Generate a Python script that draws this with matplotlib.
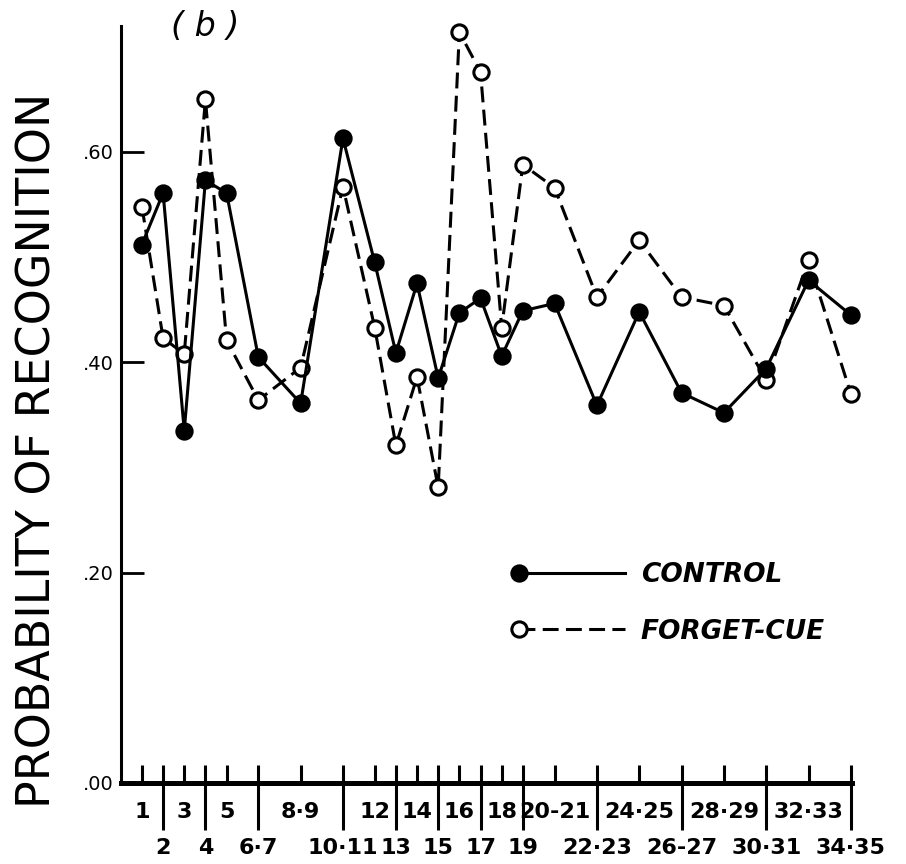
import matplotlib
matplotlib.use('Agg')
import matplotlib.pyplot as plt
from matplotlib.legend_handler import HandlerLine2D

# serial positions (pairs plotted at their midpoint)
pozycje = [1, 2, 3, 4, 5, 6.5, 8.5, 10.5, 12, 13, 14, 15, 16, 17, 18, 19,
           20.5, 22.5, 24.5, 26.5, 28.5, 30.5, 32.5, 34.5]
etykiety = ['1', '2', '3', '4', '5', '6·7', '8·9', '10·11', '12', '13', '14', '15',
            '16', '17', '18', '19', '20-21', '22·23', '24·25', '26-27', '28·29',
            '30·31', '32·33', '34·35']

control = [0.512, 0.561, 0.335, 0.573, 0.561, 0.405, 0.361, 0.613, 0.495, 0.409,
           0.475, 0.385, 0.447, 0.461, 0.406, 0.449, 0.456, 0.359, 0.448, 0.371,
           0.352, 0.394, 0.478, 0.445]
forget_cue = [0.548, 0.423, 0.408, 0.650, 0.421, 0.364, 0.395, 0.567, 0.433, 0.321,
              0.386, 0.281, 0.714, 0.676, 0.433, 0.588, 0.566, 0.462, 0.516, 0.462,
              0.454, 0.383, 0.497, 0.370]

y_ticks = [0.0, 0.2, 0.4, 0.6]
y_labels = ['.00', '.20', '.40', '.60']


class MarkerOnLeft(HandlerLine2D):
    # marker at the left end of the legend line instead of the middle
    def create_artists(self, *args, **kwargs):
        arts = super().create_artists(*args, **kwargs)
        for a in arts:
            a.set_markevery([0])
        return arts


fig = plt.figure(figsize=(9.06, 8.64), dpi=100)
ax = fig.add_axes([0.1333, 0.09375, 0.807, 0.8764])

ax.plot(pozycje, forget_cue, color='black', lw=2.2, linestyle=(0, (5.2, 2.4)),
        marker='o', ms=11, mfc='white', mec='black', mew=2.2,
        label='FORGET-CUE', clip_on=False, zorder=3)
ax.plot(pozycje, control, color='black', lw=2.2, linestyle='-',
        marker='o', ms=11, mfc='black', mec='black', mew=2.2,
        label='CONTROL', clip_on=False, zorder=4)

ax.set_xlim(0, 34.55)
ax.set_ylim(0, 0.72)

for s in ['top', 'right']:
    ax.spines[s].set_visible(False)
ax.spines['left'].set_linewidth(2.2)
ax.spines['bottom'].set_linewidth(3.6)

ax.set_yticks(y_ticks)
ax.set_yticklabels(y_labels, fontsize=14)
ax.tick_params(axis='y', direction='in', length=16.5, width=2, pad=5)

# short inward ticks at every position, long outward ticks at the lower-row ones
ax.set_xticks(pozycje)
ax.set_xticklabels([])
ax.tick_params(axis='x', which='major', direction='in', length=13, width=2.2)
ax.xaxis.remove_overlapping_locs = False
ax.set_xticks(pozycje[1::2], minor=True)
ax.tick_params(axis='x', which='minor', direction='out', length=34, width=2.2)

for i, (x, lab) in enumerate(zip(pozycje, etykiety)):
    off = -21 if i % 2 == 0 else -47
    ax.annotate(lab, xy=(x, 0), xycoords=('data', 'axes fraction'),
                xytext=(0, off), textcoords='offset points',
                ha='center', va='center', fontsize=16, fontweight='bold',
                annotation_clip=False)

fig.text(38 / 906, 1 - 450 / 864, 'PROBABILITY OF RECOGNITION', rotation=90,
         ha='center', va='center', fontsize=33)
fig.text(205 / 906, 1 - 27 / 864, '( b )', ha='center', va='center',
         fontsize=24, fontstyle='oblique')

h, l = ax.get_legend_handles_labels()
leg = ax.legend(h[::-1], l[::-1], loc='center left', bbox_to_anchor=(0.545, 0.237),
                frameon=False, borderpad=0, borderaxespad=0, handlelength=4.0,
                handletextpad=0.6, labelspacing=1.15, numpoints=1,
                handler_map={type(h[0]): MarkerOnLeft()},
                prop={'size': 19, 'weight': 'bold', 'style': 'oblique'})

fig.savefig('out.png', dpi=100, facecolor='white')
